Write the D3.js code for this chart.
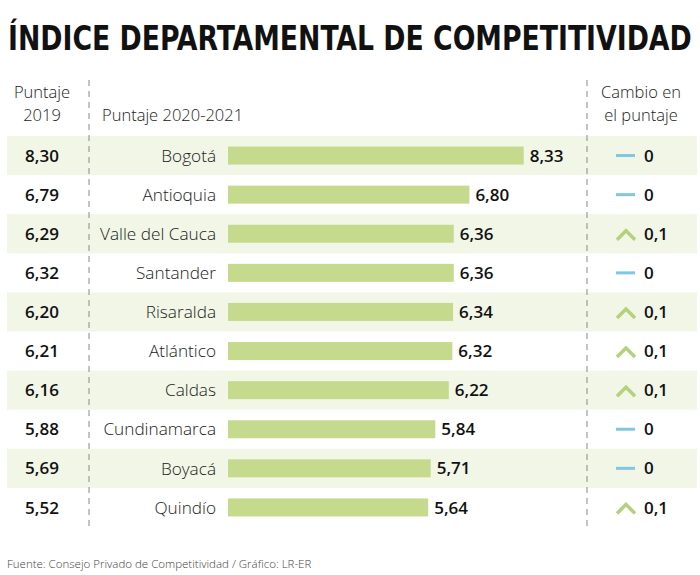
<!DOCTYPE html>
<html><head><meta charset="utf-8">
<script src="https://cdn.jsdelivr.net/npm/d3@7"></script>
<style>body{margin:0;background:#fff}svg{display:block}</style>
</head><body>
<script>
const departamentos = ["Bogotá","Antioquia","Valle del Cauca","Santander","Risaralda","Atlántico","Caldas","Cundinamarca","Boyacá","Quindío"];
const puntaje2019 = [8.30,6.79,6.29,6.32,6.20,6.21,6.16,5.88,5.69,5.52];
const puntaje2021 = [8.33,6.80,6.36,6.36,6.34,6.32,6.22,5.84,5.71,5.64];
const cambio = [0,0,0.1,0,0.1,0.1,0.1,0,0,0.1];

const W = 700, H = 575;
const font = "'Open Sans', sans-serif";
const fmt = v => d3.format(".2f")(v).replace(".", ",");
const fmtC = v => v === 0 ? "0" : d3.format(".1f")(v).replace(".", ",");

const svg = d3.select("body").append("svg").attr("width", W).attr("height", H);

const title = svg.append("text").attr("x", 0).attr("y", 0)
  .attr("font-family", "'Liberation Sans Narrow','DejaVu Sans Condensed',sans-serif")
  .attr("font-weight", "bold").attr("font-size", 34).attr("fill", "#111")
  .text("ÍNDICE DEPARTAMENTAL DE COMPETITIVIDAD");
const tl = title.node().getComputedTextLength();
title.attr("transform", `translate(8,50) scale(${684 / tl},1)`);

const y = d3.scaleBand().domain(departamentos).range([136, 527]);
const x = d3.scaleLinear().domain([0, 10]).range([228, 583]);

const rows = svg.append("g").selectAll("g").data(departamentos).join("g")
  .attr("transform", d => `translate(0,${y(d)})`);

rows.filter((d, i) => i % 2 === 0).append("rect")
  .attr("x", 7).attr("width", 690).attr("height", y.bandwidth()).attr("fill", "#f1f6e7");

const cy = y.bandwidth() / 2;
const bh = 18;

rows.append("rect").attr("x", x(0)).attr("y", cy - bh / 2).attr("height", bh)
  .attr("width", (d, i) => x(puntaje2021[i]) - x(0)).attr("fill", "#c6da8d");

rows.append("text").attr("x", 216).attr("y", cy).attr("dy", "0.36em")
  .attr("text-anchor", "end").attr("font-family", font).attr("font-size", 17.2)
  .attr("fill", "#222").attr("font-weight", 300).text(d => d);

rows.append("text").attr("x", (d, i) => x(puntaje2021[i]) + 6).attr("y", cy).attr("dy", "0.36em")
  .attr("font-family", font).attr("font-size", 17).attr("font-weight", 600)
  .attr("fill", "#111").text((d, i) => fmt(puntaje2021[i]));

rows.append("text").attr("x", 42).attr("y", cy).attr("dy", "0.36em").attr("text-anchor", "middle")
  .attr("font-family", font).attr("font-size", 17).attr("font-weight", 600)
  .attr("fill", "#111").text((d, i) => fmt(puntaje2019[i]));

// change icons
rows.each(function(d, i) {
  const g = d3.select(this);
  if (cambio[i] === 0) {
    g.append("line").attr("x1", 616).attr("x2", 635).attr("y1", cy).attr("y2", cy)
      .attr("stroke", "#82c7e2").attr("stroke-width", 3);
  } else {
    g.append("path").attr("d", `M617,${cy + 6} L626,${cy - 3} L635,${cy + 6}`)
      .attr("fill", "none").attr("stroke", "#b7d07c").attr("stroke-width", 3.5);
  }
  g.append("text").attr("x", 644).attr("y", cy).attr("dy", "0.36em")
    .attr("font-family", font).attr("font-size", 17).attr("font-weight", 600)
    .attr("fill", "#111").text(fmtC(cambio[i]));
});

// dashed lines
[89, 587].forEach(xx => svg.append("line").attr("x1", xx).attr("x2", xx).attr("y1", 80).attr("y2", 526)
  .attr("stroke", "#888").attr("stroke-width", 1).attr("stroke-dasharray", "6,5"));

// headers
const hdr = (t, xx, yy, anchor) => svg.append("text").attr("x", xx).attr("y", yy).attr("text-anchor", anchor)
  .attr("font-family", font).attr("font-size", 16.5).attr("font-weight", 300).attr("fill", "#222").text(t);
hdr("Puntaje", 42, 98, "middle");
hdr("2019", 42, 121, "middle");
hdr("Puntaje 2020-2021", 102, 121, "start");
hdr("Cambio en", 641, 98, "middle");
hdr("el puntaje", 641, 121, "middle");

svg.append("text").attr("x", 7).attr("y", 568).attr("font-family", font).attr("font-size", 11.5)
  .attr("font-weight", 300).attr("fill", "#444")
  .text("Fuente: Consejo Privado de Competitividad / Gráfico: LR-ER");
</script>
</body></html>
